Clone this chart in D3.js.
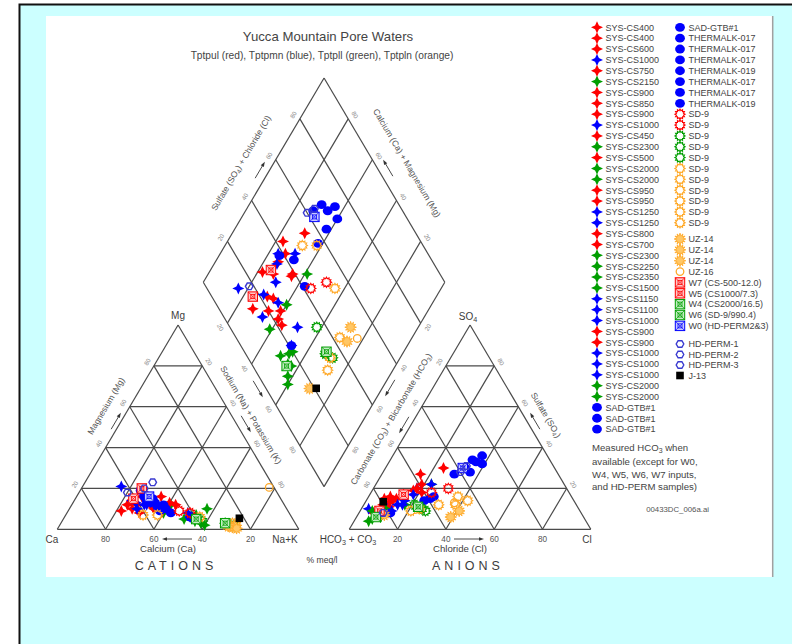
<!DOCTYPE html>
<html>
<head>
<meta charset="utf-8">
<script src="https://cdn.jsdelivr.net/npm/d3@7"></script>
<style>
  body { margin: 0; background: #fff; }
  svg { display: block; font-family: Arial, "Liberation Sans", sans-serif; }
</style>
</head>
<body>
<svg id="chart" width="792" height="644"></svg>
<script>
// ---- Sample list (legend order) -------------------------------------------
const sampleNames = [
  "SYS-CS400","SYS-CS400","SYS-CS600","SYS-CS1000","SYS-CS750","SYS-CS2150","SYS-CS900","SYS-CS850",
  "SYS-CS900","SYS-CS1000","SYS-CS450","SYS-CS2300","SYS-CS500","SYS-CS2000","SYS-CS2000","SYS-CS950",
  "SYS-CS950","SYS-CS1250","SYS-CS1250","SYS-CS800","SYS-CS700","SYS-CS2300","SYS-CS2250","SYS-CS2350",
  "SYS-CS1500","SYS-CS1150","SYS-CS1100","SYS-CS1000","SYS-CS900","SYS-CS900","SYS-CS1000","SYS-CS1000",
  "SYS-CS1000","SYS-CS2000","SYS-CS2000","SAD-GTB#1","SAD-GTB#1","SAD-GTB#1",
  "SAD-GTB#1","THERMALK-017","THERMALK-017","THERMALK-017","THERMALK-019","THERMALK-017","THERMALK-017","THERMALK-019",
  "SD-9","SD-9","SD-9","SD-9","SD-9","SD-9","SD-9","SD-9","SD-9","SD-9","SD-9",
  "UZ-14","UZ-14","UZ-14","UZ-16",
  "W7 (CS-500-12.0)","W5 (CS1000/7.3)","W4 (CS2000/16.5)","W6 (SD-9/990.4)","W0 (HD-PERM2&3)",
  "HD-PERM-1","HD-PERM-2","HD-PERM-3","J-13"
];
// Lithostratigraphic unit of each sample: ul = Tptpul, mn = Tptpmn, ll = Tptpll, ln = Tptpln
const sampleUnits = [
  "ul","ul","ul","mn","ul","ll","ul","ul","ul","mn","ul","ll","ul","ll","ll","ul","ul","mn","mn","ul",
  "ul","ll","ll","ll","ll","mn","mn","mn","ul","ul","mn","mn","mn","ll","ll","mn","mn","mn",
  "mn","mn","mn","mn","mn","mn","mn","mn",
  "ul","ul","ll","ll","ll","ln","ln","ln","ln","ln","ln",
  "ln","ln","ln","ln",
  "ul","ul","ll","ll","mn",
  "mn","mn","mn","ref"
];
// Cations, percent meq/l (Na+K is the remainder)
const caPct = [
  56,65,57,62,64,47,49,69,61,61,62,52,53,51,41,55,55,63,55,52,47,39,41,38,45,42,42,58,45,55,62,53,57,33,39,56,56,53,
  53,50,50,53,56,53,49,42,45,41,26,29,38,55,61,38,28,26,25,27,25.5,28.5,2,55,61,40,29,54,49,54,62,21.9
];
const mgPct = [
  14,12,16,14,10,12,16,9,12,13,8,8,14,10,4,18,11,21,12,9,13,3,6,2,5,8,6,12,12,10,10,11,12,10,7,16,14,13,
  11,10,12,9,19,15,8,6,9,8,2,3,4,7,7,6,2,3,2,1,0.5,1.5,20.5,20,15,5,3,16,23,20,18,5.4
];
// Anions, percent meq/l (HCO3+CO3 is the remainder)
const clPct = [
  24,16,19,18,17,23,21,12,14,18,10,17,9,10,8,6,8,3,9,11,7,7,10,6,5,16,11,16,11,18,13,14,23,10,10,33,34,36,
  37,39,36,30,24,27,26,13,25,31,25,21,27,42,38,37,31,24,21,41,39,11,37,14,8,8,23,32,33,32,10,7.3
];
const so4Pct = [
  30,27,22,20,19,22,18,15,17,17,13,12,16,6,7,8,12,10,7,14,15,5,8,4,9,12,10,14,11,20,9,12,22,6,10,30,34,33,
  36,32,28,27,14,16,15,8,18,20,10,12,9,14,12,16,12,10,9,9,6,7,13,17,9,6,11,30,31,28,8,13.5
];
const tickValues = [20, 40, 60, 80];
const legendColumn1Count = 38;

// ---- Styling ----------------------------------------------------------------
const unitColor = { ul: "#ff0000", mn: "#0000ff", ll: "#009e00", ln: "#ffa928", ref: "#000000" };
const tint = { ul: "#ffc8c8", mn: "#c8c8ff", ll: "#c4eec4", ln: "#ffe6b8", ref: "#ccc" };
const gridColor = "#4a4a4a";
const textColor = "#3c3c3c";

function markerKind(name) {
  if (name.startsWith("SYS")) return "spark";
  if (name.startsWith("SAD") || name.startsWith("THERMALK")) return "dot";
  if (name.startsWith("SD-9")) return "sd9";
  if (name.startsWith("UZ-14")) return "sun";
  if (name.startsWith("UZ-16")) return "ring";
  if (name.startsWith("HD-PERM")) return "hex";
  if (name.startsWith("J-13")) return "blk";
  return "wsq";
}

const samples = sampleNames.map((name, i) => ({
  name, unit: sampleUnits[i], kind: markerKind(name),
  ca: caPct[i], mg: mgPct[i], nak: 100 - caPct[i] - mgPct[i],
  cl: clPct[i], so4: so4Pct[i], hco3: 100 - clPct[i] - so4Pct[i]
}));

// ---- Piper geometry -----------------------------------------------------------
const svg = d3.select("#chart");
const W = 241.5, H = 204.3;          // triangle side length and height
const baseY = 529.3;                 // base line of both triangles
const catX0 = 57.3, anX0 = 349.3;    // Ca vertex and HCO3 vertex
const xs = d3.scaleLinear().domain([0, 100]).range([0, W]);
const ys = d3.scaleLinear().domain([0, 100]).range([0, H]);
const gap = anX0 - (catX0 + W);
const Bv = [catX0 + W + gap / 2, baseY - H * (gap / 2) / (W / 2)];
const Lv = [Bv[0] - W / 2, Bv[1] - H];
const Tv = [Bv[0], Bv[1] - 2 * H];
const Rv = [Bv[0] + W / 2, Bv[1] - H];

const cationXY = (ca, mg) => [catX0 + xs(100 - ca - mg + mg / 2), baseY - ys(mg)];
const anionXY = (cl, so4) => [anX0 + xs(cl + so4 / 2), baseY - ys(so4)];
const diamondXY = (nak, s) => [Lv[0] + xs((nak + s) / 2), Lv[1] + ys(nak - s)];

// ---- Page frame -----------------------------------------------------------------
svg.append("rect").attr("width", 792).attr("height", 644).attr("fill", "#fff");
svg.append("rect").attr("x", 20).attr("y", 5).attr("width", 772).attr("height", 639).attr("fill", "#ccffff");
svg.append("path").attr("d", "M19.5,644V4.5H792").attr("fill", "none").attr("stroke", "#111").attr("stroke-width", 2);
svg.append("rect").attr("x", 46).attr("y", 16).attr("width", 726).attr("height", 561).attr("fill", "#fff");
svg.append("line").attr("x1", 772.7).attr("x2", 772.7).attr("y1", 16).attr("y2", 577)
  .attr("stroke", "#a0a0a0").attr("stroke-width", 1.5);

// ---- Grids --------------------------------------------------------------------
const gridG = svg.append("g").attr("fill", "none").attr("stroke", gridColor).attr("stroke-width", 1.2);
const seg = (a, b) => gridG.append("line").attr("x1", a[0]).attr("y1", a[1]).attr("x2", b[0]).attr("y2", b[1]);
[0, 20, 40, 60, 80].forEach(v => {
  // cation triangle
  seg(cationXY(100 - v, v), cationXY(0, v));            // constant Mg
  seg(cationXY(100 - v, 0), cationXY(0, 100 - v));      // constant Na+K
  seg(cationXY(v, 0), cationXY(v, 100 - v));            // constant Ca
  // anion triangle
  seg(anionXY(0, v), anionXY(100 - v, v));              // constant SO4
  seg(anionXY(v, 0), anionXY(v, 100 - v));              // constant Cl
  seg(anionXY(100 - v, 0), anionXY(0, 100 - v));        // constant HCO3
});
[0, 20, 40, 60, 80, 100].forEach(v => {
  seg(diamondXY(v, 0), diamondXY(v, 100));
  seg(diamondXY(0, v), diamondXY(100, v));
});

// ---- Small rotated tick labels along the edges ---------------------------------------
const tickG = svg.append("g").attr("font-size", 6.2).attr("fill", "#8a8a8a")
  .attr("text-anchor", "middle").attr("dominant-baseline", "central");
function edgeTicks(pA, pB, labelFor, off = 8) {
  const dx = pB[0] - pA[0], dy = pB[1] - pA[1], len = Math.hypot(dx, dy);
  const ux = dx / len, uy = dy / len, nx = uy, ny = -ux;   // outward for clockwise edges
  let ang = Math.atan2(dy, dx) * 180 / Math.PI;
  if (ang > 90) ang -= 180;
  if (ang < -90) ang += 180;
  tickValues.forEach(v => {
    const f = v / 100;
    const x = pA[0] + f * dx + nx * off, y = pA[1] + f * dy + ny * off;
    tickG.append("text").attr("transform", `translate(${x},${y}) rotate(${ang})`).text(labelFor(v));
  });
}
const CaV = cationXY(100, 0), MgV = cationXY(0, 100), NaV = cationXY(0, 0);
const HcV = anionXY(0, 0), SoV = anionXY(0, 100), ClV = anionXY(100, 0);
edgeTicks(CaV, MgV, v => v);
edgeTicks(MgV, NaV, v => v);
edgeTicks(HcV, SoV, v => 100 - v);
edgeTicks(SoV, ClV, v => 100 - v);
edgeTicks(Lv, Tv, v => v);
edgeTicks(Tv, Rv, v => 100 - v);
edgeTicks(Rv, Bv, v => v);
edgeTicks(Bv, Lv, v => 100 - v);

// base tick labels
const baseG = svg.append("g").attr("font-size", 8.2).attr("fill", "#555").attr("text-anchor", "middle");
tickValues.forEach(v => {
  const p = cationXY(v, 0);
  baseG.append("text").attr("x", p[0]).attr("y", baseY + 12.3).text(v);
  const q = anionXY(v, 0);
  baseG.append("text").attr("x", q[0]).attr("y", baseY + 12.3).text(v);
});

// ---- Text helpers ---------------------------------------------------------------
// parts: array of [string, isSubscript]
function richText(g, parts, attrs) {
  const t = g.append("text");
  Object.entries(attrs).forEach(([k, v]) => t.attr(k, v));
  let down = false;
  parts.forEach(([s, sub]) => {
    const ts = t.append("tspan").text(s);
    if (sub && !down) { ts.attr("dy", 1.8).attr("font-size", "72%"); down = true; }
    else if (sub) { ts.attr("font-size", "72%"); }
    else if (down) { ts.attr("dy", -1.8); down = false; }
  });
  return t;
}
function arrow(cx, cy, angDeg, len = 19) {
  const a = angDeg * Math.PI / 180, ux = Math.cos(a), uy = Math.sin(a);
  const x1 = cx - ux * len / 2, y1 = cy - uy * len / 2, x2 = cx + ux * len / 2, y2 = cy + uy * len / 2;
  svg.append("line").attr("x1", x1).attr("y1", y1).attr("x2", x2 - ux * 3).attr("y2", y2 - uy * 3)
    .attr("stroke", "#333").attr("stroke-width", 0.9);
  const px = -uy, py = ux;
  svg.append("path")
    .attr("d", `M${x2},${y2}L${x2 - ux * 5 + px * 1.8},${y2 - uy * 5 + py * 1.8}L${x2 - ux * 5 - px * 1.8},${y2 - uy * 5 - py * 1.8}Z`)
    .attr("fill", "#333");
}
const edgeAng = Math.atan2(H, W / 2) * 180 / Math.PI;   // ~59.4 degrees

const labelG = svg.append("g").attr("fill", textColor);
function rotLabel(parts, x, y, ang, size = 8.6) {
  richText(labelG, parts, {
    transform: `translate(${x},${y}) rotate(${ang})`, "text-anchor": "middle",
    "dominant-baseline": "central", "font-size": size, fill: "#555"
  });
}
rotLabel([["Magnesium (Mg)", false]], 106, 406, -edgeAng);
arrow(116, 421, -edgeAng);
rotLabel([["Sodium (Na) + Potassium (K)", false]], 251, 415, edgeAng);
arrow(258, 389, edgeAng);
arrow(246, 424, edgeAng);
rotLabel([["Carbonate (CO", false], ["3", true], [") + Bicarbonate (HCO", false], ["3", true], [")", false]], 391, 419, -edgeAng);
arrow(390, 388, 180 - edgeAng);
arrow(404, 425, 180 - edgeAng);
rotLabel([["Sulfate (SO", false], ["4", true], [")", false]], 546, 415, edgeAng);
arrow(535, 421, 180 + edgeAng);
rotLabel([["Sulfate (SO", false], ["4", true], [") + Chloride (Cl)", false]], 241, 163, -edgeAng);
arrow(260, 170, -edgeAng);
rotLabel([["Calcium (Ca) + Magnesium (Mg)", false]], 407, 163, edgeAng);
arrow(388, 168, 180 + edgeAng);

// vertex and axis titles
const vG = svg.append("g").attr("fill", textColor).attr("text-anchor", "middle").attr("font-size", 10);
vG.append("text").attr("x", 52).attr("y", 542.5).text("Ca");
vG.append("text").attr("x", 285).attr("y", 542.5).text("Na+K");
vG.append("text").attr("x", MgV[0]).attr("y", 319).text("Mg");
richText(vG, [["SO", false], ["4", true]], { x: SoV[0] - 2, y: 320 });
richText(vG, [["HCO", false], ["3", true], [" + CO", false], ["3", true]], { x: 348, y: 543 });
vG.append("text").attr("x", 587).attr("y", 542.5).text("Cl");
vG.append("text").attr("x", 168).attr("y", 552).attr("font-size", 9.6).text("Calcium (Ca)");
vG.append("text").attr("x", 460).attr("y", 552).attr("font-size", 9.6).text("Chloride (Cl)");
arrow(177, 539, 180, 30);
arrow(469, 539, 0, 30);
vG.append("text").attr("x", 176).attr("y", 570).attr("font-size", 12.5).attr("letter-spacing", 4).text("CATIONS");
vG.append("text").attr("x", 468).attr("y", 570).attr("font-size", 12.5).attr("letter-spacing", 4).text("ANIONS");
vG.append("text").attr("x", 322).attr("y", 563).attr("font-size", 8.6).text("% meq/l");

// titles
svg.append("text").attr("x", 328).attr("y", 41).attr("text-anchor", "middle").attr("font-size", 13.2)
  .attr("fill", "#444").text("Yucca Mountain Pore Waters");
svg.append("text").attr("x", 322).attr("y", 58.5).attr("text-anchor", "middle").attr("font-size", 10.2)
  .attr("fill", "#444").text("Tptpul (red), Tptpmn (blue), Tptpll (green), Tptpln (orange)");

// ---- Markers --------------------------------------------------------------------
function starPath(n, ro, ri, rot = -90) {
  const pts = [];
  for (let k = 0; k < 2 * n; k++) {
    const r = k % 2 ? ri : ro, a = (rot + k * 180 / n) * Math.PI / 180;
    pts.push([r * Math.cos(a), r * Math.sin(a)]);
  }
  return "M" + pts.map(p => p[0].toFixed(2) + "," + p[1].toFixed(2)).join("L") + "Z";
}
const sparkPath = starPath(4, 6.0, 2.7);
const sd9Path = starPath(12, 5.1, 3.6);
const sunPath = starPath(12, 5.8, 3.2);
const hexPath = d3.range(6).map(k => {
  const a = (k * 60) * Math.PI / 180;
  return (k ? "L" : "M") + (3.8 * Math.cos(a)).toFixed(2) + "," + (3.8 * Math.sin(a)).toFixed(2);
}).join("") + "Z";

function drawMarker(g, s, x, y) {
  const c = unitColor[s.unit];
  const m = g.append("g").attr("transform", `translate(${x},${y})`);
  switch (s.kind) {
    case "spark":
      m.append("path").attr("d", sparkPath).attr("fill", c); break;
    case "dot":
      m.append("ellipse").attr("rx", 4.9).attr("ry", 4.4).attr("fill", c); break;
    case "sd9":
      m.append("path").attr("d", sd9Path).attr("fill", "none").attr("stroke", c).attr("stroke-width", 1.1); break;
    case "sun":
      m.append("path").attr("d", sunPath).attr("fill", "#ffc766").attr("stroke", c).attr("stroke-width", 0.9); break;
    case "ring":
      m.append("circle").attr("r", 3.8).attr("fill", "none").attr("stroke", c).attr("stroke-width", 1.3); break;
    case "hex":
      m.append("path").attr("d", hexPath).attr("fill", "none").attr("stroke", "#3a3ad0").attr("stroke-width", 1.4); break;
    case "blk":
      m.append("rect").attr("x", -3.8).attr("y", -3.8).attr("width", 7.6).attr("height", 7.6).attr("fill", "#000"); break;
    default:
      m.append("rect").attr("x", -4.7).attr("y", -4.7).attr("width", 9.4).attr("height", 9.4)
        .attr("fill", tint[s.unit]).attr("stroke", c).attr("stroke-width", 1);
      m.append("path").attr("d", "M-4.7,-4.7L4.7,4.7M4.7,-4.7L-4.7,4.7").attr("stroke", c).attr("stroke-width", 0.7);
      m.append("rect").attr("x", -2).attr("y", -2).attr("width", 4).attr("height", 4)
        .attr("fill", "none").attr("stroke", c).attr("stroke-width", 0.8);
  }
}

const markG = svg.append("g");
samples.forEach(s => {
  const p1 = cationXY(s.ca, s.mg);
  const p2 = anionXY(s.cl, s.so4);
  const p3 = diamondXY(s.nak, s.cl + s.so4);
  drawMarker(markG, s, p1[0], p1[1]);
  drawMarker(markG, s, p2[0], p2[1]);
  drawMarker(markG, s, p3[0], p3[1]);
});

// ---- Legend ---------------------------------------------------------------------
const legG = svg.append("g").attr("font-size", 9).attr("fill", "#444");
const rowStep = 10.86;
samples.forEach((s, i) => {
  let x, y;
  if (i < legendColumn1Count) { x = 597; y = 27.3 + rowStep * i; }
  else {
    const j = i - legendColumn1Count;
    x = 680;
    if (j < 19) y = 27.3 + rowStep * j;
    else if (j < 28) y = 239 + rowStep * (j - 19);
    else y = 344 + 10.5 * (j - 28);
  }
  drawMarker(legG, s, x, y);
  legG.append("text").attr("x", x + 8.5).attr("y", y + 3.3).text(s.name);
});

const noteG = svg.append("g").attr("font-size", 9.6).attr("fill", "#444");
richText(noteG, [["Measured HCO", false], ["3", true], [" when", false]], { x: 592, y: 451 });
noteG.append("text").attr("x", 592).attr("y", 465).text("available (except for W0,");
noteG.append("text").attr("x", 592).attr("y", 477.8).text("W4, W5, W6, W7 inputs,");
noteG.append("text").attr("x", 592).attr("y", 490.4).text("and HD-PERM samples)");
svg.append("text").attr("x", 709).attr("y", 512).attr("text-anchor", "end").attr("font-size", 7.8)
  .attr("fill", "#555").text("00433DC_006a.ai");
</script>
</body>
</html>
